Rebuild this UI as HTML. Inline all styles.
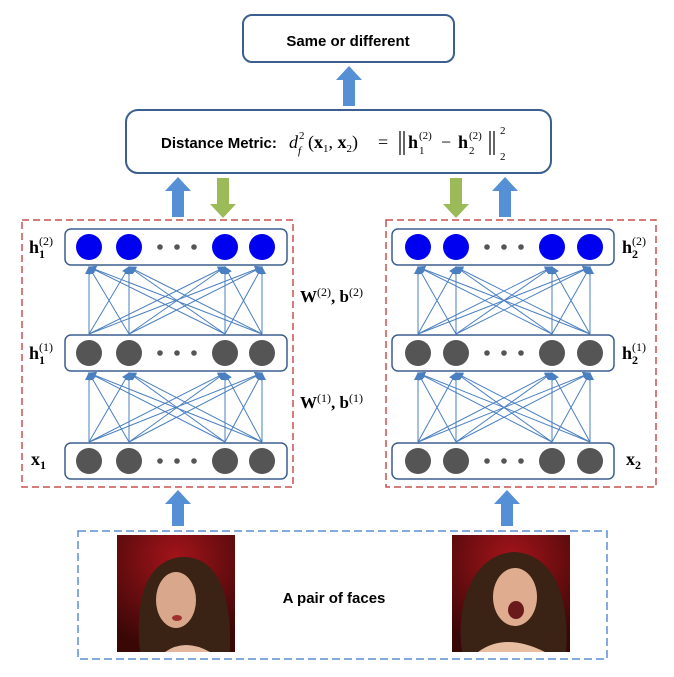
<!DOCTYPE html>
<html><head><meta charset="utf-8"><style>
body{margin:0;background:#fff;width:674px;height:672px;overflow:hidden}
svg text{font-family:"Liberation Sans",sans-serif}
.m{font-family:"Liberation Serif",serif;font-weight:bold}
.n{font-family:"Liberation Serif",serif}
</style></head><body>
<svg id="s" width="674" height="672" viewBox="0 0 674 672" xmlns="http://www.w3.org/2000/svg">
<defs>
<marker id="ah" markerWidth="8" markerHeight="8" refX="7" refY="4" orient="auto" markerUnits="userSpaceOnUse"><path d="M0,0 L8,4 L0,8 Z" fill="#4a7fc1"/></marker>
<radialGradient id="bg1" cx="0.5" cy="0.2" r="0.8"><stop offset="0" stop-color="#a3141a"/><stop offset="1" stop-color="#3a0707"/></radialGradient>
</defs>
<rect x="243" y="15" width="211" height="47" rx="9" fill="#fff" stroke="#3b5f8f" stroke-width="2"/>
<text x="348" y="46" text-anchor="middle" font-size="15" font-weight="bold">Same or different</text>
<path d="M343,106 V80 H336 L349,66 L362,80 H355 V106 Z" fill="#5590d6"/>
<rect x="126" y="110" width="425" height="63" rx="12" fill="#fff" stroke="#3b5f8f" stroke-width="2"/>
<text x="161" y="148" font-size="15" font-weight="bold">Distance Metric:</text>
<g class="n" font-size="18">
<text x="289" y="148" class="n" font-style="italic" font-size="18">d</text>
<text x="299" y="139" class="n" font-size="11">2</text>
<text x="298" y="154" class="n" font-size="11" font-style="italic">f</text>
<text x="308" y="148" class="n" font-size="18">(<tspan font-weight="bold">x</tspan><tspan font-size="11" dy="4">1</tspan><tspan dy="-4">, </tspan><tspan font-weight="bold">x</tspan><tspan font-size="11" dy="4">2</tspan><tspan dy="-4">)</tspan></text>
<text x="378" y="148" class="n" font-size="18">=</text>
<line x1="400" y1="131" x2="400" y2="155" stroke="#000" stroke-width="1.2"/><line x1="404" y1="131" x2="404" y2="155" stroke="#000" stroke-width="1.2"/>
<text x="408" y="148" class="m" font-size="18">h</text>
<text x="419" y="154" class="n" font-size="11">1</text>
<text x="419" y="139" class="n" font-size="11">(2)</text>
<text x="441" y="148" class="n" font-size="18">−</text>
<text x="458" y="148" class="m" font-size="18">h</text>
<text x="469" y="154" class="n" font-size="11">2</text>
<text x="469" y="139" class="n" font-size="11">(2)</text>
<line x1="490" y1="131" x2="490" y2="155" stroke="#000" stroke-width="1.2"/><line x1="494" y1="131" x2="494" y2="155" stroke="#000" stroke-width="1.2"/>
<text x="500" y="134" class="n" font-size="11">2</text>
<text x="500" y="160" class="n" font-size="11">2</text>
</g>
<path d="M172,217 V191 H165 L178,177 L191,191 H184 V217 Z" fill="#5590d6"/>
<path d="M217,178 V204 H210 L223,218 L236,204 H229 V178 Z" fill="#9bbb59"/>
<path d="M450,178 V204 H443 L456,218 L469,204 H462 V178 Z" fill="#9bbb59"/>
<path d="M499,217 V191 H492 L505,177 L518,191 H511 V217 Z" fill="#5590d6"/>
<rect x="22" y="220" width="271" height="267" fill="none" stroke="#c9504f" stroke-width="1.5" stroke-dasharray="7,4"/>
<rect x="386" y="220" width="270" height="267" fill="none" stroke="#c9504f" stroke-width="1.5" stroke-dasharray="7,4"/>
<g id="nets"></g>
<text x="300" y="302" class="m" font-size="17">W<tspan font-size="12" dy="-6" style="font-weight:normal">(2)</tspan><tspan dy="6">,  b</tspan><tspan font-size="12" dy="-6" style="font-weight:normal">(2)</tspan></text>
<text x="300" y="408" class="m" font-size="17">W<tspan font-size="12" dy="-6" style="font-weight:normal">(1)</tspan><tspan dy="6">,  b</tspan><tspan font-size="12" dy="-6" style="font-weight:normal">(1)</tspan></text>
<text x="29" y="253" class="m" font-size="18">h<tspan font-size="12" dy="5">1</tspan><tspan font-size="12" dx="-6" dy="-13" style="font-weight:normal">(2)</tspan></text>
<text x="29" y="359" class="m" font-size="18">h<tspan font-size="12" dy="5">1</tspan><tspan font-size="12" dx="-6" dy="-13" style="font-weight:normal">(1)</tspan></text>
<text x="31" y="465" class="m" font-size="18">x<tspan font-size="12" dy="4">1</tspan></text>
<text x="622" y="253" class="m" font-size="18">h<tspan font-size="12" dy="5">2</tspan><tspan font-size="12" dx="-6" dy="-13" style="font-weight:normal">(2)</tspan></text>
<text x="622" y="359" class="m" font-size="18">h<tspan font-size="12" dy="5">2</tspan><tspan font-size="12" dx="-6" dy="-13" style="font-weight:normal">(1)</tspan></text>
<text x="626" y="465" class="m" font-size="18">x<tspan font-size="12" dy="4">2</tspan></text>
<path d="M172,526 V504 H165 L178,490 L191,504 H184 V526 Z" fill="#5590d6"/>
<path d="M501,526 V504 H494 L507,490 L520,504 H513 V526 Z" fill="#5590d6"/>
<rect x="78" y="531" width="529" height="128" fill="none" stroke="#5b8fd6" stroke-width="1.5" stroke-dasharray="8,4"/>
<g><rect x="117" y="535" width="118" height="117" fill="url(#bg1)"/>
<path d="M140,652 C135,600 145,562 180,557 C218,555 232,595 230,652 Z" fill="#3a2214"/>
<ellipse cx="176" cy="600" rx="20" ry="28" fill="#d9a88c"/>
<ellipse cx="177" cy="618" rx="5" ry="3" fill="#a0302e"/>
<path d="M165,652 Q185,638 210,652 Z" fill="#e3b79d"/></g>
<g><rect x="452" y="535" width="118" height="117" fill="url(#bg1)"/>
<path d="M462,652 C455,600 475,553 515,552 C555,555 570,600 566,652 Z" fill="#3a2214"/>
<ellipse cx="515" cy="597" rx="22" ry="29" fill="#e0ac90"/>
<ellipse cx="516" cy="610" rx="8" ry="9" fill="#6b1a1c"/>
<path d="M478,652 Q505,632 545,652 Z" fill="#e8bea2"/></g>
<text x="334" y="603" text-anchor="middle" font-size="15" font-weight="bold">A pair of faces</text>
</svg>
<script>
var g=document.getElementById('nets'),ns='http://www.w3.org/2000/svg';
function el(t,a){var e=document.createElementNS(ns,t);for(var k in a)e.setAttribute(k,a[k]);g.appendChild(e);return e;}
var nets=[{bx:65,bw:222,xs:[89,129,225,262]},{bx:392,bw:222,xs:[418,456,552,590]}];
var layers=[{y:229,c:'#0000f0'},{y:335,c:'#555'},{y:443,c:'#555'}];
nets.forEach(function(n){
 for(var l=0;l<2;l++){var top=layers[l].y+37,bot=layers[l+1].y-1;
  n.xs.forEach(function(a){n.xs.forEach(function(b){el('line',{x1:a,y1:bot,x2:b,y2:top+1,stroke:'#4a7fc1','stroke-width':1,'marker-end':'url(#ah)'});});});}
 layers.forEach(function(L){
  el('rect',{x:n.bx,y:L.y,width:n.bw,height:36,rx:6,fill:'#fff',stroke:'#3b5f8f','stroke-width':1.5});
  n.xs.forEach(function(x){el('circle',{cx:x,cy:L.y+18,r:13,fill:L.c});});
  var mid=(n.xs[1]+n.xs[2])/2;[-17,0,17].forEach(function(d){el('circle',{cx:mid+d,cy:L.y+18,r:2.8,fill:'#555'});});
 });
});
</script>
</body></html>
